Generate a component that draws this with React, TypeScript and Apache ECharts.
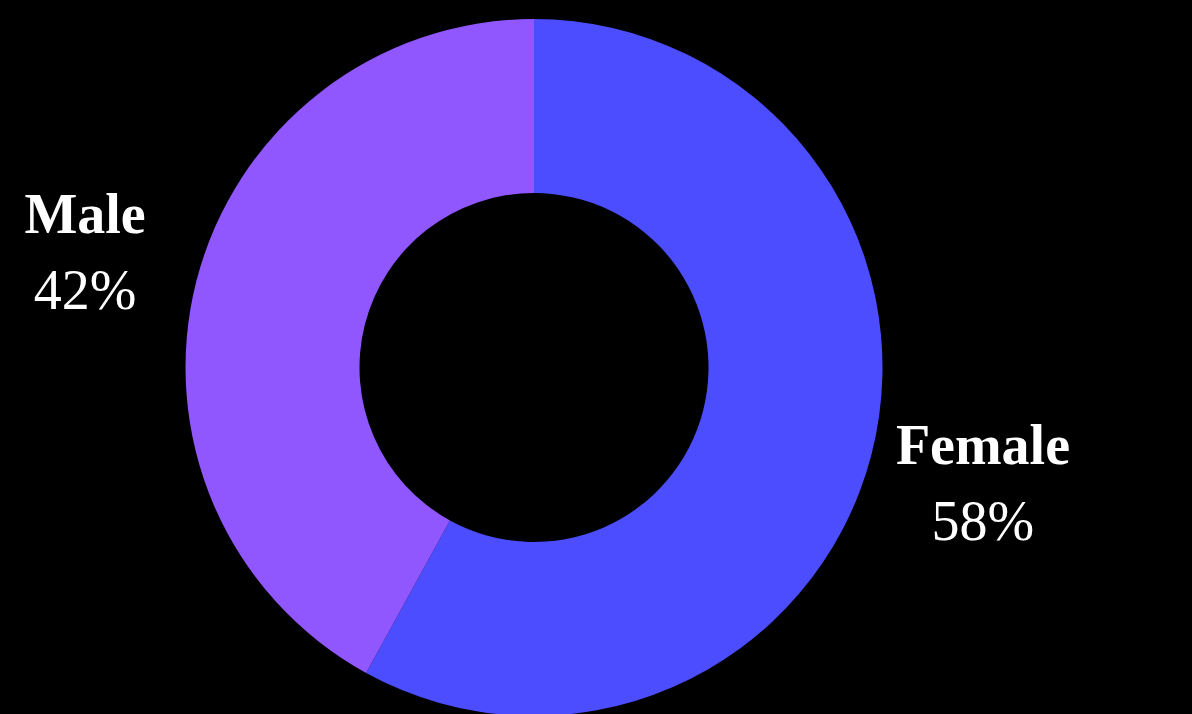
import React, { useEffect, useRef } from "react";
import * as echarts from "echarts";

const categories = ["Female", "Male"];
const values = [58, 42];
const colors = ["#4B4DFF", "#9157FF"];

export default function App() {
  const ref = useRef<HTMLDivElement>(null);
  useEffect(() => {
    document.body.style.margin = "0";
    document.body.style.background = "#000";
    const chart = echarts.init(ref.current!, null, { renderer: "svg" });
    chart.setOption({
      animation: false,
      backgroundColor: "#000000",
      series: [
        {
          type: "pie",
          center: [534, 367.5],
          radius: [174.5, 348.5],
          startAngle: 90,
          clockwise: true,
          avoidLabelOverlap: false,
          data: categories.map((c, i) => ({
            name: c,
            value: values[i],
            itemStyle: { color: colors[i] },
          })),
          itemStyle: { borderWidth: 0 },
          label: {
            show: true,
            position: "outside",
            width: 260,
            distanceToLabelLine: 0,
            formatter: (p: any) => `{n|${p.name}}\n{p|${p.value}%}`,
            rich: {
              n: {
                fontFamily: "Liberation Serif",
                fontSize: 56,
                fontWeight: "bold",
                color: "#ffffff",
                lineHeight: 76,
                align: "center",
              },
              p: {
                fontFamily: "Liberation Serif",
                fontSize: 56,
                color: "#ffffff",
                lineHeight: 76,
                align: "center",
              },
            },
          },
          labelLine: { show: false, length: 115, length2: 0 },
          labelLayout: () => ({ align: "center" }),
          emphasis: { disabled: true },
        },
      ],
    });
    return () => chart.dispose();
  }, []);
  return (
    <div
      ref={ref}
      style={{ position: "fixed", left: 0, top: 0, width: 1192, height: 714, background: "#000" }}
    />
  );
}
